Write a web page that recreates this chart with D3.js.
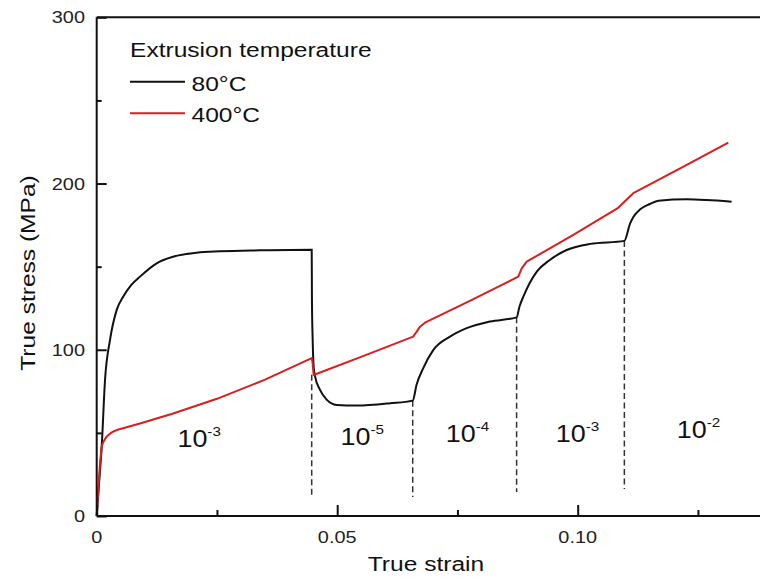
<!DOCTYPE html>
<html>
<head>
<meta charset="utf-8">
<script src="https://cdn.jsdelivr.net/npm/d3@7"></script>
<style>
  body { margin: 0; background: #fff; }
  svg { display: block; font-family: "Liberation Sans", Arial, sans-serif; }
</style>
</head>
<body>
<div id="chart"></div>
<script>
// strain / stress
const strain80 = [0, 0.0005, 0.00104, 0.00173, 0.00277, 0.00416, 0.00553, 0.0072, 0.009, 0.01247,
  0.01593, 0.02079, 0.02563, 0.034, 0.0447, 0.04475, 0.0449, 0.0451, 0.0454, 0.0464, 0.0478, 0.0499,
  0.054, 0.061, 0.0657, 0.0665, 0.0679, 0.07, 0.07345, 0.07692, 0.08177, 0.0873, 0.0879, 0.0887,
  0.09, 0.0915, 0.0942, 0.0977, 0.1026, 0.1097, 0.1109, 0.1116, 0.113, 0.1150, 0.1168, 0.1227,
  0.1268, 0.132];
const stress80 = [0, 20, 41.7, 81.8, 106, 124, 132, 139, 144, 152,
  156, 158.4, 159.2, 159.8, 160.2, 130, 106, 90, 84, 76, 70, 66.8,
  66.4, 67.8, 69.4, 79, 89, 99.9, 107.9, 113, 117, 119.5, 126, 132,
  140, 147, 154, 160, 163.7, 165.5, 176, 180, 184.5, 187.7, 189.7, 190.5,
  190.1, 189.1];

const strain400 = [0, 0.00069, 0.00104, 0.0013, 0.0017, 0.00208, 0.0025, 0.003, 0.0036, 0.00416,
  0.009, 0.0159, 0.025, 0.035, 0.0447, 0.04485, 0.0451, 0.0555, 0.0658, 0.06653, 0.06722,
  0.06825, 0.078, 0.08765, 0.08836, 0.0894, 0.099, 0.10825, 0.11156, 0.1215, 0.13131];
const stress400 = [0, 31.7, 41.7, 44, 46.2, 47.7, 48.9, 50, 51, 51.7,
  55.6, 61.7, 70.5, 82, 95, 93, 84.8, 96.3, 107.9, 110.9, 113.9,
  116.3, 130, 144, 149, 153, 169, 185, 194.2, 209.4, 224.6];

// strain-rate steps
const stepStrains = [0.0447, 0.0657, 0.0873, 0.1097];
const stepTop = [85, 69.4, 119.5, 165.5];
const stepBottom = [10.8, 11.4, 14.4, 16.2];
const rateExp = ["-3", "-5", "-4", "-3", "-2"];
const rateX = [0.0213, 0.0552, 0.0771, 0.09996, 0.1251];
const rateY = [41.5, 43, 44.8, 44.8, 46.8];

const legendNames = ["80°C", "400°C"];
const xTicks = [0, 0.05, 0.10];
const xTickLabels = ["0", "0.05", "0.10"];
const yTicks = [0, 100, 200, 300];

const W = 760, H = 579;
const x0 = 96.7, y0 = 516, yTop = 17.3;
const SX = 1.17; // the original lettering is a little wide

const svg = d3.select("#chart").append("svg")
  .attr("width", W)
  .attr("height", H);

const x = d3.scaleLinear().domain([0, 0.14]).range([x0, x0 + 0.14 * 4810]);
const y = d3.scaleLinear().domain([0, 300]).range([y0, yTop]);

function label(px, py, str, size, anchor, rot) {
  return svg.append("text")
    .attr("transform", "translate(" + px + "," + py + ")" + (rot ? " rotate(" + rot + ")" : "") + " scale(" + SX + ",1)")
    .attr("text-anchor", anchor || "start")
    .attr("font-size", size)
    .attr("fill", "#111")
    .text(str);
}

// dashed step lines
svg.selectAll(".step")
  .data(stepStrains)
  .enter()
  .append("line")
  .attr("x1", d => x(d))
  .attr("x2", d => x(d))
  .attr("y1", (d, i) => y(stepTop[i]))
  .attr("y2", (d, i) => y(stepBottom[i]))
  .attr("stroke", "#333")
  .attr("stroke-width", 1.5)
  .attr("stroke-dasharray", "6,3.5");

const smooth = d3.line()
  .x(d => x(d[0]))
  .y(d => y(d[1]))
  .curve(d3.curveMonotoneX);
const straight = d3.line()
  .x(d => x(d[0]))
  .y(d => y(d[1]));

const black = strain80.map((s, i) => [s, stress80[i]]);
const red = strain400.map((s, i) => [s, stress400[i]]);

svg.append("path")
  .datum(black)
  .attr("d", smooth)
  .attr("fill", "none")
  .attr("stroke", "#111")
  .attr("stroke-width", 2);

svg.append("path")
  .datum(red)
  .attr("d", straight)
  .attr("fill", "none")
  .attr("stroke", "#d81e1e")
  .attr("stroke-width", 2)
  .attr("stroke-linejoin", "round");

// axes (ticks point inward)
const xAxis = d3.axisBottom(x)
  .tickValues([0, 0.025, 0.05, 0.075, 0.10, 0.125])
  .tickSize(-11)
  .tickFormat("");
const gx = svg.append("g")
  .attr("transform", "translate(0," + y0 + ")")
  .call(xAxis);
gx.selectAll(".tick line")
  .attr("y2", (d, i) => (i % 2 === 0 ? -11 : -6));

const yAxis = d3.axisLeft(y)
  .tickValues([0, 50, 100, 150, 200, 250, 300])
  .tickSize(-10)
  .tickFormat("");
const gy = svg.append("g")
  .attr("transform", "translate(" + x0 + ",0)")
  .call(yAxis);
gy.selectAll(".tick line")
  .attr("x2", (d, i) => (i % 2 === 0 ? 10 : 5));

[gx, gy].forEach(g => {
  g.select(".domain").attr("stroke-width", 2).attr("stroke", "#111");
  g.selectAll(".tick line").attr("stroke-width", 2).attr("stroke", "#111");
});
gx.select(".domain").attr("d", "M" + x0 + ",0H" + W);
gy.select(".domain").attr("d", "M0," + y0 + "V" + yTop);

// top frame line
svg.append("line")
  .attr("x1", x0).attr("x2", W)
  .attr("y1", yTop).attr("y2", yTop)
  .attr("stroke", "#111")
  .attr("stroke-width", 2);

// tick labels
xTicks.forEach((d, i) => label(x(d), 543, xTickLabels[i], 17, "middle").attr("fill", "#222"));
yTicks.forEach(d => label(85, y(d) + 6, d, 17, "end").attr("fill", "#222"));

// axis titles
label(426, 571, "True strain", 21, "middle");
label(35, 273, "True stress (MPa)", 21, "middle", -90);

// legend
label(130, 57, "Extrusion temperature", 21);
const legendColors = ["#111", "#d81e1e"];
legendNames.forEach((name, i) => {
  const ly = 81.7 + i * 31.5;
  svg.append("line")
    .attr("x1", 130).attr("x2", 185)
    .attr("y1", ly).attr("y2", ly)
    .attr("stroke", legendColors[i])
    .attr("stroke-width", 2);
  label(191.5, ly + 9, name, 21);
});

// strain rate labels
rateExp.forEach((e, i) => {
  const t = label(x(rateX[i]), y(rateY[i]), "", 23, "middle");
  t.append("tspan").text("10");
  t.append("tspan")
    .attr("font-size", 13)
    .attr("dy", -11)
    .text(e);
});
</script>
</body>
</html>
